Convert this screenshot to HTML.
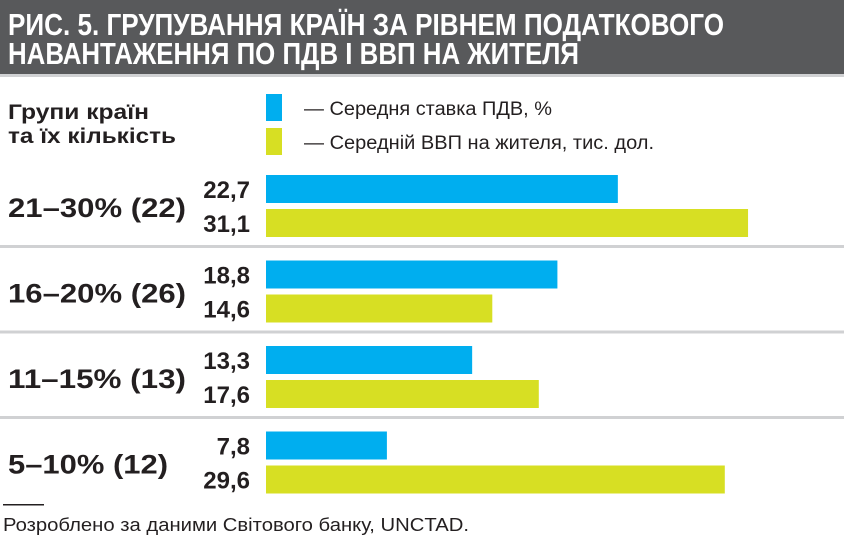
<!DOCTYPE html>
<html><head><meta charset="utf-8"><style>
html,body{margin:0;padding:0;background:#fff;}
svg{display:block;font-family:"Liberation Sans","DejaVu Sans",sans-serif;}
</style></head><body>
<svg id="chart" width="844" height="541" viewBox="0 0 844 541">
<rect x="0" y="0" width="844" height="74" fill="#58595b"/>
<rect x="0" y="74" width="844" height="3" fill="#d0d1d3"/>
<text x="8" y="35" font-size="31" font-weight="bold" fill="#fff" textLength="716" lengthAdjust="spacingAndGlyphs">РИС. 5. ГРУПУВАННЯ КРАЇН ЗА РІВНЕМ ПОДАТКОВОГО</text>
<text x="8" y="64" font-size="31" font-weight="bold" fill="#fff" textLength="571" lengthAdjust="spacingAndGlyphs">НАВАНТАЖЕННЯ ПО ПДВ І ВВП НА ЖИТЕЛЯ</text>
<text x="8" y="119" font-size="21" font-weight="bold" fill="#231f20" textLength="141" lengthAdjust="spacingAndGlyphs">Групи країн</text>
<text x="8" y="143" font-size="21" font-weight="bold" fill="#231f20" textLength="168" lengthAdjust="spacingAndGlyphs">та їх кількість</text>
<g>
<rect x="266" y="94" width="16" height="27" fill="#00aeef"/>
<text x="304" y="115" font-size="19" fill="#231f20" textLength="248" lengthAdjust="spacingAndGlyphs">— Середня ставка ПДВ, %</text>
<rect x="266" y="128" width="16" height="27" fill="#d7df23"/>
<text x="304" y="149" font-size="19" fill="#231f20" textLength="350" lengthAdjust="spacingAndGlyphs">— Середній ВВП на жителя, тис. дол.</text>
</g>
<g id="bars"></g>
<rect x="3" y="504" width="41" height="1.5" fill="#231f20"/>
<text x="3" y="531" font-size="18" fill="#231f20" textLength="466" lengthAdjust="spacingAndGlyphs">Розроблено за даними Світового банку, UNCTAD.</text>
</svg>
<script>
const groups = ["21–30% (22)", "16–20% (26)", "11–15% (13)", "5–10% (12)"];
const vatRate = [22.7, 18.8, 13.3, 7.8];
const gdpPerCapita = [31.1, 14.6, 17.6, 29.6];
const vatLabels = ["22,7", "18,8", "13,3", "7,8"];
const gdpLabels = ["31,1", "14,6", "17,6", "29,6"];

const NS = "http://www.w3.org/2000/svg";
const g = document.getElementById("bars");
const x0 = 266, pxPerUnit = 15.5;
const xScale = v => v * pxPerUnit;
const groupTop = i => 175 + i * 85.5;
function mk(tag, attrs){ const e = document.createElementNS(NS, tag); for (const k in attrs) e.setAttribute(k, attrs[k]); g.appendChild(e); return e; }
groups.forEach((name, i) => {
  const y = groupTop(i);
  const lab = mk("text", {x: 8, y: y + 42, "font-size": 27, "font-weight": "bold", fill: "#231f20"});
  lab.textContent = name;
  lab.setAttribute('textLength', i === 3 ? 160 : 178);
  lab.setAttribute('lengthAdjust', 'spacingAndGlyphs');
  
  
  const b1 = mk("rect", {x: x0, y: y, width: xScale(vatRate[i]), height: 28, fill: "#00aeef"});
  
  
  const b2 = mk("rect", {x: x0, y: y + 34, width: xScale(gdpPerCapita[i]), height: 28, fill: "#d7df23"});
  
  
  const v1 = mk("text", {x: 250, y: y + 23, "font-size": 24, "font-weight": "bold", fill: "#231f20", "text-anchor": "end"});
  v1.textContent = vatLabels[i];
  
  
  const v2 = mk("text", {x: 250, y: y + 57, "font-size": 24, "font-weight": "bold", fill: "#231f20", "text-anchor": "end"});
  v2.textContent = gdpLabels[i];
  
  
  if (i < groups.length - 1) {
    const s = mk("rect", {x: 0, y: y + 70, width: 844, height: 3, fill: "#d0d1d3"});
    
    
  }
});
</script>
</body></html>
